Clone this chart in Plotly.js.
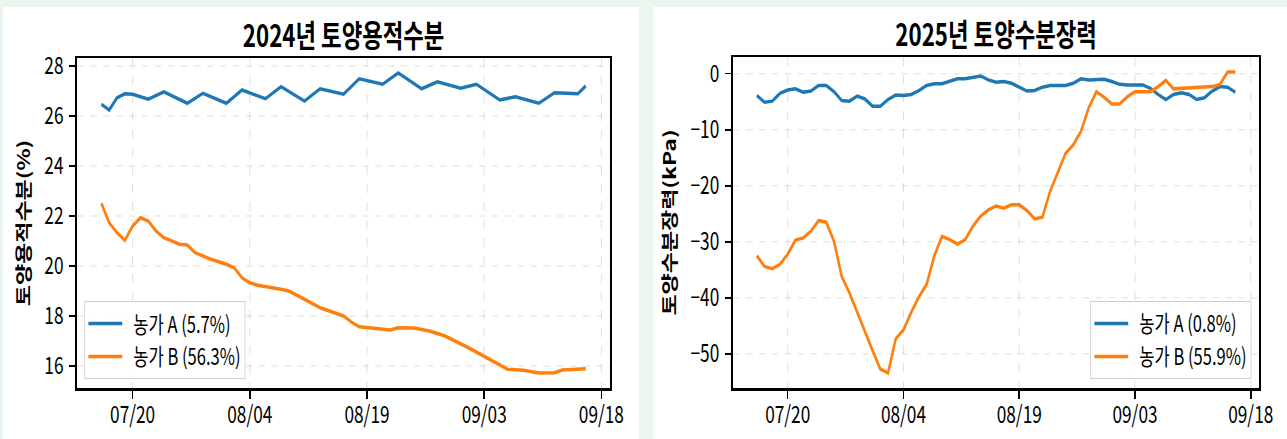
<!DOCTYPE html>
<html>
<head>
<meta charset="utf-8">
<script src="https://cdn.plot.ly/plotly-3.0.1.min.js"></script>
<style>
  html, body { margin: 0; padding: 0; background: #eaf6ee; width: 1287px; height: 439px; overflow: hidden; }
  .panel { position: absolute; top: 7px; height: 432px; background: #ffffff; overflow: hidden; }
  #vwcPanel { left: 3px; width: 636px; }
  #tensionPanel { left: 653px; width: 634px; }
  .plot { position: absolute; left: 0; top: 0; transform-origin: 0 0; }
</style>
</head>
<body>
<div id="vwcPanel" class="panel"><div id="vwc" class="plot"></div></div>
<div id="tensionPanel" class="panel"><div id="tension" class="plot"></div></div>
<script>
// ---- 2024 volumetric soil moisture (%) ----
const vwcFarmADates = ['07-16','07-17','07-18','07-19','07-20','07-22','07-24','07-27','07-29','08-01',
  '08-03','08-06','08-08','08-11','08-13','08-16','08-18','08-21','08-23','08-26',
  '08-28','08-31','09-02','09-05','09-07','09-10','09-12','09-15','09-16'];
const vwcFarmA = [26.47, 26.24, 26.73, 26.89, 26.87, 26.67, 26.97, 26.51, 26.91, 26.51,
  27.04, 26.69, 27.17, 26.60, 27.09, 26.87, 27.49, 27.27, 27.72, 27.09,
  27.37, 27.11, 27.27, 26.64, 26.77, 26.51, 26.93, 26.89, 27.20];

const vwcFarmBDates = ['07-16','07-17','07-18','07-19','07-20','07-21','07-22','07-23','07-24','07-26',
  '07-27','07-28','07-30','08-01','08-02','08-03','08-04','08-05','08-08','08-09',
  '08-11','08-13','08-16','08-17','08-18','08-20','08-22','08-23','08-25','08-27',
  '08-29','09-01','09-04','09-06','09-08','09-10','09-12','09-13','09-16'];
const vwcFarmB = [22.51, 21.73, 21.33, 21.03, 21.60, 21.93, 21.80, 21.40, 21.13, 20.87,
  20.84, 20.53, 20.27, 20.07, 19.93, 19.53, 19.33, 19.23, 19.07, 19.00,
  18.67, 18.33, 18.00, 17.76, 17.57, 17.49, 17.44, 17.53, 17.52, 17.40,
  17.20, 16.73, 16.20, 15.87, 15.83, 15.72, 15.73, 15.84, 15.89];

// ---- 2025 soil water tension (kPa), daily from 07/16 ----
const tensionStart = '2025-07-16';
const tensionFarmA = [-3.9, -5.1, -4.9, -3.5, -2.9, -2.7, -3.3, -3.1, -2.1, -2.1,
  -3.2, -4.8, -4.9, -4.0, -4.5, -5.8, -5.8, -4.6, -3.8, -3.9,
  -3.7, -3.0, -2.1, -1.8, -1.8, -1.4, -0.9, -0.9, -0.6, -0.4,
  -1.1, -1.5, -1.4, -1.7, -2.4, -3.1, -3.0, -2.4, -2.1, -2.1,
  -2.1, -1.7, -0.9, -1.1, -1.1, -1.0, -1.4, -1.9, -2.0, -2.0,
  -2.0, -2.6, -3.7, -4.6, -3.7, -3.4, -3.7, -4.6, -4.3, -3.1,
  -2.3, -2.4, -3.3];
const tensionFarmB = [-32.5, -34.4, -34.8, -34.0, -32.2, -29.7, -29.3, -28.1, -26.2, -26.5,
  -29.9, -36.2, -39.1, -42.6, -46.2, -49.4, -52.7, -53.4, -47.3, -45.7,
  -42.6, -39.8, -37.6, -32.5, -29.0, -29.6, -30.4, -29.6, -27.2, -25.4,
  -24.3, -23.6, -24.0, -23.4, -23.4, -24.4, -25.9, -25.6, -21.0, -17.7,
  -14.2, -12.7, -10.3, -6.1, -3.2, -4.2, -5.4, -5.4, -4.1, -3.2,
  -3.2, -3.2, -2.3, -1.2, -2.7, -2.6, -2.5, -2.4, -2.35, -2.3,
  -1.9, 0.3, 0.3];

const seriesNames = {
  vwc: ['농가 A (5.7%)', '농가 B (56.3%)'],
  tension: ['농가 A (0.8%)', '농가 B (55.9%)']
};
const titles = {
  vwc: '2024년 토양용적수분',
  tension: '2025년 토양수분장력'
};
const yTitles = {
  vwc: '토양용적수분(%)',
  tension: '토양수분장력(kPa)'
};

const BLUE = '#1f77b4';
const ORANGE = '#ff7f0e';
const FONT = '"Noto Sans CJK KR", "Noto Sans", sans-serif';
const DAY = 86400000;
// the figures are drawn wide and narrowed horizontally to fit their panels
const SQUEEZE = 0.72;
// small gap between a legend line sample and its label
const LEGEND_GAP = '\u00a0\u00a0';

function fmt(ms) {
  return new Date(ms).toISOString().slice(0, 19).replace('T', ' ');
}
function toMs(d) { return new Date(d + 'T00:00:00Z').getTime(); }

// 5% padding around the data extent
function dateRange(dateLists) {
  const all = dateLists.flat().map(toMs);
  const lo = Math.min(...all), hi = Math.max(...all);
  const pad = 0.05 * (hi - lo);
  return [fmt(lo - pad), fmt(hi + pad)];
}
function valueRange(valueLists) {
  const all = valueLists.flat();
  const lo = Math.min(...all), hi = Math.max(...all);
  const pad = 0.05 * (hi - lo);
  return [lo - pad, hi + pad];
}
function dailyDates(start, n) {
  const t0 = toMs(start);
  const out = [];
  for (let i = 0; i < n; i++) out.push(fmt(t0 + i * DAY).slice(0, 10));
  return out;
}

function gridAxis() {
  return {
    showline: true, linecolor: '#000', mirror: true,
    ticks: 'outside', tickcolor: '#000',
    showgrid: true, gridcolor: 'rgba(0,0,0,0.15)', griddash: 'dash', gridwidth: 1,
    zeroline: false,
    tickfont: { family: FONT, size: 24, color: '#000' }
  };
}

function buildLayout(key, panelWidth, xr, yr, yDtick, tick0, m, legendX, legendAnchor) {
  return {
    width: panelWidth / SQUEEZE,
    height: 432,
    margin: { l: m.l / SQUEEZE, r: m.r / SQUEEZE, t: m.t, b: m.b, autoexpand: false },
    paper_bgcolor: '#ffffff',
    plot_bgcolor: '#ffffff',
    font: { family: FONT, color: '#000' },
    title: {
      text: '<b>' + titles[key] + '</b>',
      font: { family: FONT, size: 31, color: '#000' },
      x: 0.5, xref: 'paper', xanchor: 'center',
      y: 1, yref: 'paper', yanchor: 'bottom', pad: { b: 11 }
    },
    xaxis: Object.assign(gridAxis(), {
      type: 'date', range: xr, tick0: tick0, dtick: 15 * DAY,
      tickformat: '%m/%d', linewidth: 2.5, ticklen: 8, tickwidth: 1.5 / SQUEEZE,
      ticklabelstandoff: -4
    }),
    yaxis: Object.assign(gridAxis(), {
      range: yr, dtick: yDtick, tick0: 0,
      linewidth: 2 / SQUEEZE, ticklen: 6 / SQUEEZE, tickwidth: 1.5,
      ticklabelstandoff: 3,
      title: { text: '<b>' + yTitles[key] + '</b>', font: { family: FONT, size: 23, color: '#000' }, standoff: 13 }
    }),
    showlegend: true,
    legend: {
      x: legendX, xanchor: legendAnchor, y: 0.027, yanchor: 'bottom',
      bgcolor: 'rgba(255,255,255,0.85)', bordercolor: '#cccccc', borderwidth: 1,
      font: { family: FONT, size: 23, color: '#000' },
      traceorder: 'grouped', tracegroupgap: 0, itemwidth: 47
    }
  };
}

const config = { staticPlot: true, displayModeBar: false };

function draw(id, traces, layout) {
  const el = document.getElementById(id);
  el.style.width = layout.width + 'px';
  el.style.height = layout.height + 'px';
  el.style.transform = 'scaleX(' + SQUEEZE + ')';
  Plotly.newPlot(el, traces, layout, config);
}

// ---- left panel ----
const vwcADates = vwcFarmADates.map(d => '2024-' + d);
const vwcBDates = vwcFarmBDates.map(d => '2024-' + d);
draw('vwc', [
  { x: vwcADates, y: vwcFarmA, type: 'scatter', mode: 'lines', name: LEGEND_GAP + seriesNames.vwc[0],
    legendgroup: 'a', line: { color: BLUE, width: 3.5 } },
  { x: vwcBDates, y: vwcFarmB, type: 'scatter', mode: 'lines', name: LEGEND_GAP + seriesNames.vwc[1],
    legendgroup: 'b', line: { color: ORANGE, width: 3.5 } }
], buildLayout('vwc', 636,
  dateRange([vwcADates, vwcBDates]),
  valueRange([vwcFarmA, vwcFarmB]),
  2, '2024-07-20',
  { l: 74, r: 29, t: 51, b: 51 },
  0.013, 'left'));

// ---- right panel ----
const tensionDates = dailyDates(tensionStart, tensionFarmA.length);
draw('tension', [
  { x: tensionDates, y: tensionFarmA, type: 'scatter', mode: 'lines', name: LEGEND_GAP + seriesNames.tension[0],
    legendgroup: 'a', line: { color: BLUE, width: 3.5 } },
  { x: tensionDates, y: tensionFarmB, type: 'scatter', mode: 'lines', name: LEGEND_GAP + seriesNames.tension[1],
    legendgroup: 'b', line: { color: ORANGE, width: 3.5 } }
], buildLayout('tension', 634,
  dateRange([tensionDates]),
  valueRange([tensionFarmA, tensionFarmB]),
  10, '2025-07-20',
  { l: 80, r: 28, t: 50, b: 51 },
  0.985, 'right'));
</script>
</body>
</html>
